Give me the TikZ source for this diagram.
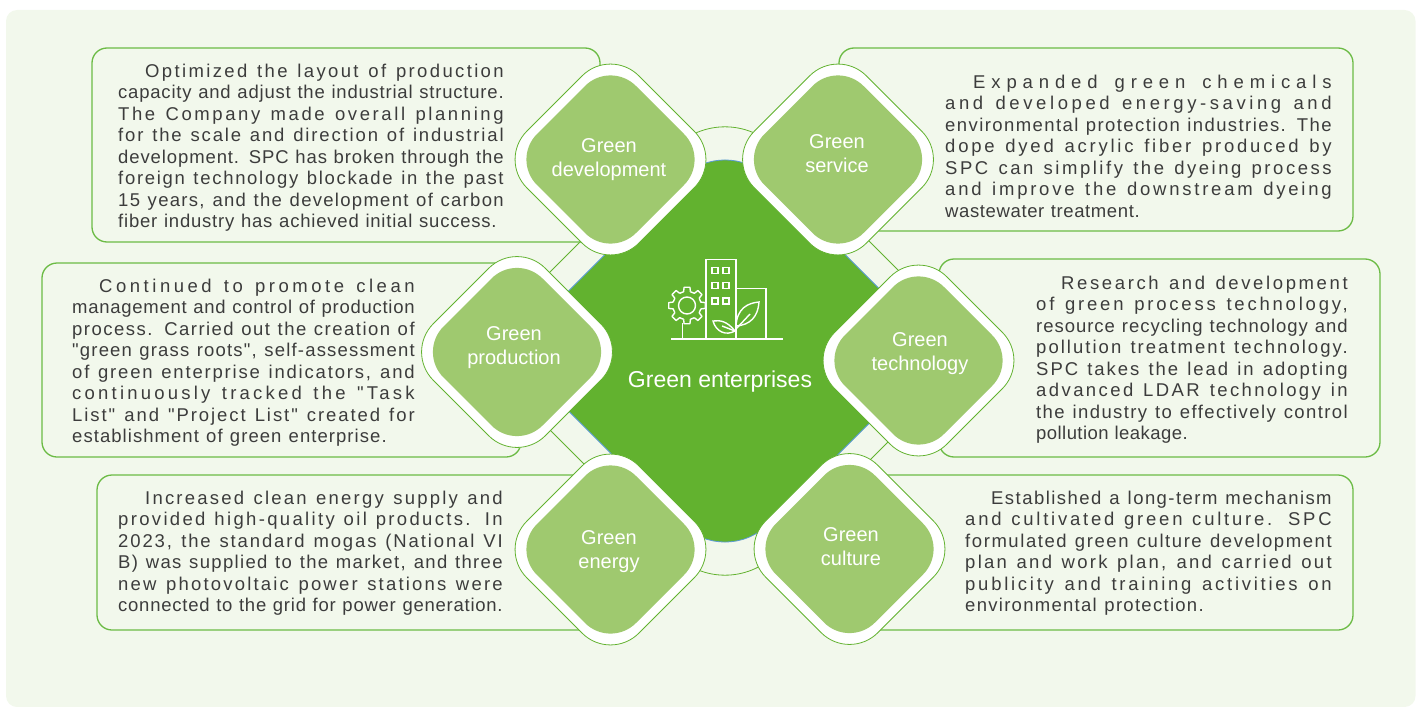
\documentclass[tikz,border=0pt]{standalone}
\usepackage{fontspec}
\usepackage{xstring}
\setmainfont{Liberation Sans}[Ligatures=TeXOff]
\definecolor{pagebg}{HTML}{F2F8EC}
\definecolor{boxline}{HTML}{6CBB45}
\definecolor{centerfill}{HTML}{62B22F}
\definecolor{petalfill}{HTML}{9FC96F}
\definecolor{blueedge}{HTML}{5B9BD5}
\definecolor{bodytext}{HTML}{3C3C3C}
\newsavebox\jlbox
\newcommand\jl[2]{\sbox\jlbox{#2}\StrLen{#2}[\jln]\pgfmathsetmacro\jlw{#1-1.5}\pgfmathsetmacro\jls{(\jlw-\wd\jlbox)/(\jln-1)/18.5*100}\makebox[\jlw pt][s]{\addfontfeature{LetterSpace=\jls}#2}}
\newcommand\jlfirst[3]{\hspace*{#1pt}\jl{#2}{#3}}
\newcommand\topstrut{\rule{0pt}{14pt}}
\tikzset{
  card/.style={draw=boxline,line width=1.3pt,rounded corners=15pt},
  bodyblock/.style={anchor=north west,inner sep=0pt,align=left,text=bodytext,font=\fontsize{18.5}{21.5}\selectfont},
  petallabel/.style={text=white,align=center,inner sep=0pt,font=\fontsize{20}{24}\selectfont},
  iconline/.style={draw=white,line width=1.4pt},
}
% rounded diamond: centre x, centre y, half diagonal, radius, options
\newcommand\rdiamond[5]{\path[#5,rounded corners=#4pt] (#1,#2-#3) -- (#1+#3,#2) -- (#1,#2+#3) -- (#1-#3,#2) -- cycle;}
\newcommand\petal[2]{\rdiamond{#1}{#2}{112}{40}{fill=white,draw=centerfill,line width=0.8pt}\rdiamond{#1}{#2}{99}{36}{fill=petalfill}}
\begin{document}
\begin{tikzpicture}[x=1pt,y=-1pt]
\useasboundingbox (0,0) rectangle (1420,706);
\fill[pagebg,rounded corners=11pt] (6,10) rectangle (1415.5,707);
% outer ring
\rdiamond{725}{351}{254}{72}{draw=centerfill,line width=0.8pt}
% cards
\draw[card] (92,48) rectangle (600,242);
\draw[card] (839,48) rectangle (1353,231);
\draw[card] (42,263) rectangle (521,457);
\draw[card] (939,259) rectangle (1380,457);
\draw[card] (97,475) rectangle (600,630);
\draw[card] (850,475) rectangle (1353,630);
% centre
\rdiamond{725}{351}{216.5}{61.5}{fill=centerfill,draw=blueedge,line width=0.8pt}
% petals
\petal{610.5}{159.5}
\petal{838}{159.5}
\petal{517}{352}
\petal{918.5}{360.5}
\petal{610.5}{549.5}
\petal{849.5}{549}
\node[petallabel] (ldev) at (609,160) {Green\\development};
\node[petallabel] (lser) at (837,154) {Green\\service};
\node[petallabel] (lpro) at (514,348) {Green\\production};
\node[petallabel] (ltec) at (920,354) {Green\\technology};
\node[petallabel] (lene) at (609,552) {Green\\energy};
\node[petallabel] (lcul) at (851,547) {Green\\culture};
\node[text=white,inner sep=0pt,font=\fontsize{23}{28}\selectfont] (lcen) at (720,382) {Green enterprises};
% icon
\draw[iconline] (671,339) -- (783,339);
\draw[iconline] (706,339) -- (706,259.5) -- (736,259.5) -- (736,339);
\draw[iconline] (736,288.5) -- (766,288.5) -- (766,339);
\foreach \wx in {712,723}
  \foreach \wy in {267.5,282.5,298}
    \draw[iconline] (\wx,\wy) rectangle ++(6,6);
\draw[iconline] (682.5,323) -- (682.5,339);
\begin{scope}[shift={(687,305.5)}]
\draw[iconline] (0,0) circle (8.5pt);
\foreach \ga in {0,45,...,315}{
  \draw[iconline,line join=round] (\ga-31:14.2) -- (\ga-14:14.2) -- (\ga-9:18.5) -- (\ga+9:18.5) -- (\ga+14:14.2);
}
\end{scope}
\draw[iconline] (736,326) .. controls (737,308) and (748,303) .. (759,302) .. controls (758,317) and (750,325) .. (736,326) -- cycle;
\draw[iconline] (736,329) -- (750,314);
\draw[iconline] (735,331) .. controls (727,321) and (720,320) .. (713,321) .. controls (716,332) and (726,336) .. (735,331) -- cycle;
\draw[iconline] (735,331) -- (722,326);
% texts
\node[bodyblock] (t1) at (118,63) {\topstrut\jlfirst{27}{360}{Optimized the layout of production}\\
\jl{387}{capacity and adjust the industrial structure.}\\
\jl{387}{The Company made overall planning}\\
\jl{387}{for the scale and direction of industrial}\\
\jl{387}{development. SPC has broken through the}\\
\jl{387}{foreign technology blockade in the past}\\
\jl{387}{15 years, and the development of carbon}\\
\jl{380}{fiber industry has achieved initial success.}};
\node[bodyblock] (t2) at (945,74) {\topstrut\jlfirst{28}{360}{Expanded green chemicals}\\
\jl{388}{and developed energy-saving and}\\
\jl{388}{environmental protection industries. The}\\
\jl{388}{dope dyed acrylic fiber produced by}\\
\jl{388}{SPC can simplify the dyeing process}\\
\jl{388}{and improve the downstream dyeing}\\
\jl{196}{wastewater treatment.}};
\node[bodyblock] (t3) at (72,278) {\topstrut\jlfirst{27}{317}{Continued to promote clean}\\
\jl{344}{management and control of production}\\
\jl{344}{process. Carried out the creation of}\\
\jl{344}{"green grass roots", self-assessment}\\
\jl{344}{of green enterprise indicators, and}\\
\jl{344}{continuously tracked the "Task}\\
\jl{344}{List" and "Project List" created for}\\
\jl{316}{establishment of green enterprise.}};
\node[bodyblock] (t4) at (1036,275) {\topstrut\jlfirst{25}{288}{Research and development}\\
\jl{313}{of green process technology,}\\
\jl{313}{resource recycling technology and}\\
\jl{313}{pollution treatment technology.}\\
\jl{313}{SPC takes the lead in adopting}\\
\jl{313}{advanced LDAR technology in}\\
\jl{313}{the industry to effectively control}\\
\jl{153}{pollution leakage.}};
\node[bodyblock] (t5) at (118,490) {\topstrut\jlfirst{27}{359}{Increased clean energy supply and}\\
\jl{386}{provided high-quality oil products. In}\\
\jl{386}{2023, the standard mogas (National VI}\\
\jl{386}{B) was supplied to the market, and three}\\
\jl{386}{new photovoltaic power stations were}\\
\jl{386}{connected to the grid for power generation.}};
\node[bodyblock] (t6) at (965,490) {\topstrut\jlfirst{26}{342}{Established a long-term mechanism}\\
\jl{368}{and cultivated green culture. SPC}\\
\jl{368}{formulated green culture development}\\
\jl{368}{plan and work plan, and carried out}\\
\jl{368}{publicity and training activities on}\\
\jl{240}{environmental protection.}};
\end{tikzpicture}
\end{document}
